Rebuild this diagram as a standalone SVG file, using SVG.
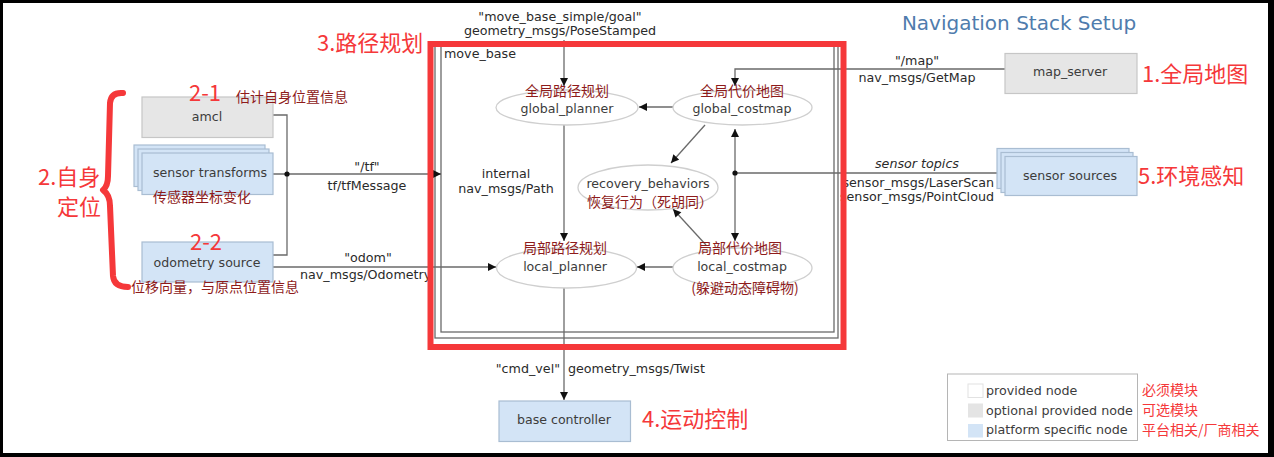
<svg xmlns="http://www.w3.org/2000/svg" width="1274" height="457" viewBox="0 0 1274 457">
<style>
.lbl{font-family:"DejaVu Sans","Noto Sans",sans-serif;font-size:12.7px;fill:#2a2a2a}
.nt{font-family:"DejaVu Sans","Noto Sans",sans-serif;font-size:12.6px;fill:#3c3c3c;text-anchor:middle}
.cn{font-family:"Noto Sans CJK SC","Noto Sans",sans-serif;font-size:14px;fill:#8e1b1b}
.cnm{font-family:"Noto Sans CJK SC","Noto Sans",sans-serif;font-size:14px;fill:#8e1b1b;text-anchor:middle}
.big{font-family:"Noto Sans CJK SC","Noto Sans",sans-serif;font-size:22px;fill:#f5383a}
.leg{font-family:"Noto Sans CJK SC","Noto Sans",sans-serif;font-size:14px;fill:#f5383a}
.ln{fill:none;stroke:#6a6a6a;stroke-width:1.3}
.ell{fill:#fff;stroke:#cfcfcf;stroke-width:1.3}
.gray{fill:#e6e6e6;stroke:#c6c6c6;stroke-width:1.2}
.blue{fill:#d3e4f6;stroke:#a9bdd2;stroke-width:1.2}
.mid{text-anchor:middle}
</style>
<defs>
<marker id="ah" viewBox="0 0 10 10" refX="10" refY="5" markerWidth="9" markerHeight="8" markerUnits="userSpaceOnUse" orient="auto">
<path d="M0,0 L10,5 L0,10 z" fill="#111"/>
</marker>
<marker id="ahs" viewBox="0 0 10 10" refX="0" refY="5" markerWidth="9" markerHeight="8" markerUnits="userSpaceOnUse" orient="auto">
<path d="M10,0 L0,5 L10,10 z" fill="#111"/>
</marker>
</defs>
<rect x="0" y="0" width="1274" height="457" fill="#fff"/>
<g id="frame">
<rect x="0" y="0" width="1274" height="3" fill="#000"/>
<rect x="0" y="453" width="1274" height="4" fill="#000"/>
<rect x="0" y="0" width="3" height="457" fill="#000"/>
<rect x="1268" y="0" width="6" height="457" fill="#000"/>
</g>
<text x="1019" y="30" text-anchor="middle" style="font-family:'DejaVu Sans',sans-serif;font-size:20px;fill:#4f7cad">Navigation Stack Setup</text>

<g id="move_base">
<rect x="435" y="46" width="403" height="292" fill="none" stroke="#6a6a6a" stroke-width="1.3"/>
<rect x="441" y="46" width="393" height="286" fill="none" stroke="#6a6a6a" stroke-width="1.3"/>
<text x="444" y="58" class="lbl">move_base</text>
</g>

<g id="connectors">
<path class="ln" d="M564,40 L564,86" marker-end="url(#ah)"/>
<path class="ln" d="M1005,69 L735,69 L735,86" marker-end="url(#ah)"/>
<path class="ln" d="M673,107 L639,107" marker-end="url(#ah)"/>
<path class="ln" d="M564,125 L564,241" marker-end="url(#ah)"/>
<path class="ln" d="M705,125 L671,163" marker-end="url(#ah)"/>
<path class="ln" d="M706,245 L673,209" marker-end="url(#ah)"/>
<path class="ln" d="M735,129 L735,241" marker-start="url(#ahs)" marker-end="url(#ah)"/>
<path class="ln" d="M997,173 L735,173"/>
<circle cx="735" cy="173" r="2.6" fill="#111"/>
<path class="ln" d="M673,267 L637,267" marker-end="url(#ah)"/>
<path class="ln" d="M273,174 L441,174" marker-end="url(#ah)"/>
<path class="ln" d="M273,115 L287,115 L287,255 L273,255"/>
<circle cx="287" cy="174" r="2.6" fill="#111"/>
<path class="ln" d="M273,267 L496,267" marker-end="url(#ah)"/>
<path class="ln" d="M564,288 L564,400" marker-end="url(#ah)"/>
<text x="560" y="21" class="lbl mid">"move_base_simple/goal"</text>
<text x="560" y="35" class="lbl mid">geometry_msgs/PoseStamped</text>
<text x="917" y="65" class="lbl mid">"/map"</text>
<text x="917" y="82" class="lbl mid">nav_msgs/GetMap</text>
<text x="917" y="168" class="lbl mid" font-style="italic">sensor topics</text>
<text x="994" y="187" class="lbl" text-anchor="end">sensor_msgs/LaserScan</text>
<text x="994" y="201" class="lbl" text-anchor="end">sensor_msgs/PointCloud</text>
<text x="367" y="171" class="lbl mid">"/tf"</text>
<text x="367" y="190" class="lbl mid">tf/tfMessage</text>
<text x="368" y="262" class="lbl mid">"odom"</text>
<text x="300" y="279" class="lbl">nav_msgs/Odometry</text>
<text x="506" y="178" class="lbl mid">internal</text>
<text x="506" y="193" class="lbl mid">nav_msgs/Path</text>
<text x="560" y="373" class="lbl" text-anchor="end">"cmd_vel"</text>
<text x="568" y="373" class="lbl">geometry_msgs/Twist</text>
</g>

<g id="global_planner">
<ellipse cx="567" cy="107.5" rx="71" ry="17.5" class="ell"/>
<text x="567" y="113" class="nt">global_planner</text>
<text x="567" y="96" class="cnm">全局路径规划</text>
</g>
<g id="global_costmap">
<ellipse cx="742.5" cy="107.5" rx="69.5" ry="17.5" class="ell"/>
<text x="742" y="113" class="nt">global_costmap</text>
<text x="742" y="96" class="cnm">全局代价地图</text>
</g>
<g id="recovery_behaviors">
<ellipse cx="648" cy="187.5" rx="70" ry="22.5" class="ell"/>
<text x="648" y="188" class="nt">recovery_behaviors</text>
<text x="650" y="207" class="cnm">恢复行为（死胡同）</text>
</g>
<g id="local_planner">
<ellipse cx="566.5" cy="268" rx="70" ry="20" class="ell"/>
<text x="565" y="271" class="nt">local_planner</text>
<text x="565" y="253" class="cnm">局部路径规划</text>
</g>
<g id="local_costmap">
<ellipse cx="742.5" cy="268" rx="69.5" ry="20" class="ell"/>
<text x="742" y="271" class="nt">local_costmap</text>
<text x="740" y="253" class="cnm">局部代价地图</text>
<text x="745" y="293" class="cnm">(躲避动态障碍物)</text>
</g>

<g id="map_server">
<rect x="1005" y="53.5" width="132" height="40" class="gray"/>
<text x="1070" y="76" class="nt">map_server</text>
</g>
<g id="sensor_sources">
<rect x="997" y="148.5" width="132" height="40" class="blue"/>
<rect x="1001" y="152.5" width="132" height="40" class="blue"/>
<rect x="1005" y="156.5" width="132" height="39" class="blue"/>
<text x="1070" y="180" class="nt">sensor sources</text>
</g>
<g id="amcl">
<rect x="142" y="97" width="131" height="40.5" class="gray"/>
<text x="207" y="121" class="nt">amcl</text>
</g>
<g id="sensor_transforms">
<rect x="134" y="145" width="131" height="41.5" class="blue"/>
<rect x="138" y="149" width="131" height="41.5" class="blue"/>
<rect x="142" y="153" width="131" height="41.5" class="blue"/>
<text x="210" y="177" class="nt">sensor transforms</text>
</g>
<g id="odometry_source">
<rect x="142" y="242" width="131" height="40" class="blue"/>
<text x="207" y="267" class="nt">odometry source</text>
</g>
<g id="base_controller">
<rect x="499" y="401" width="131.5" height="40.5" class="blue"/>
<text x="564" y="424" class="nt">base controller</text>
</g>

<g id="legend">
<rect x="947.5" y="374" width="190" height="66.5" fill="#fff" stroke="#b5b5b5" stroke-width="1"/>
<rect x="968" y="384" width="15" height="13.5" fill="#fff" stroke="#e2e2e2" stroke-width="1"/>
<rect x="968" y="403.5" width="15" height="14" fill="#e4e4e4"/>
<rect x="968" y="424" width="15" height="13.5" fill="#d3e4f6"/>
<text x="986" y="395" class="lbl" style="fill:#3c3c3c">provided node</text>
<text x="986" y="414.5" class="lbl" style="fill:#3c3c3c">optional provided node</text>
<text x="986" y="434" class="lbl" style="fill:#3c3c3c">platform specific node</text>
<text x="1142" y="395" class="leg">必须模块</text>
<text x="1142" y="414.5" class="leg">可选模块</text>
<text x="1142" y="435" class="leg">平台相关/厂商相关</text>
</g>

<g id="annotations">
<rect x="430.5" y="44" width="413" height="303" fill="none" stroke="#f5383a" stroke-width="6"/>
<text x="317" y="51" class="big">3.路径规划</text>
<text x="1142" y="82" class="big">1.全局地图</text>
<text x="1138" y="184" class="big">5.环境感知</text>
<text x="642" y="427" class="big">4.运动控制</text>
<text x="189" y="101" class="big">2-1</text>
<text x="236" y="102" class="cn">估计自身位置信息</text>
<text x="190" y="250" class="big">2-2</text>
<text x="153" y="202" class="cn">传感器坐标变化</text>
<text x="131" y="292" class="cn">位移向量，与原点位置信息</text>
<text x="38" y="185" class="big">2.自身</text>
<text x="57" y="215" class="big">定位</text>
<path d="M123,93 Q111,92 110,103 L108,176 Q108,186 103,190 Q110,195 110,206 L113,276 Q114,287 128,287" fill="none" stroke="#f5383a" stroke-width="6" stroke-linecap="round" stroke-linejoin="round"/>
</g>
</svg>
